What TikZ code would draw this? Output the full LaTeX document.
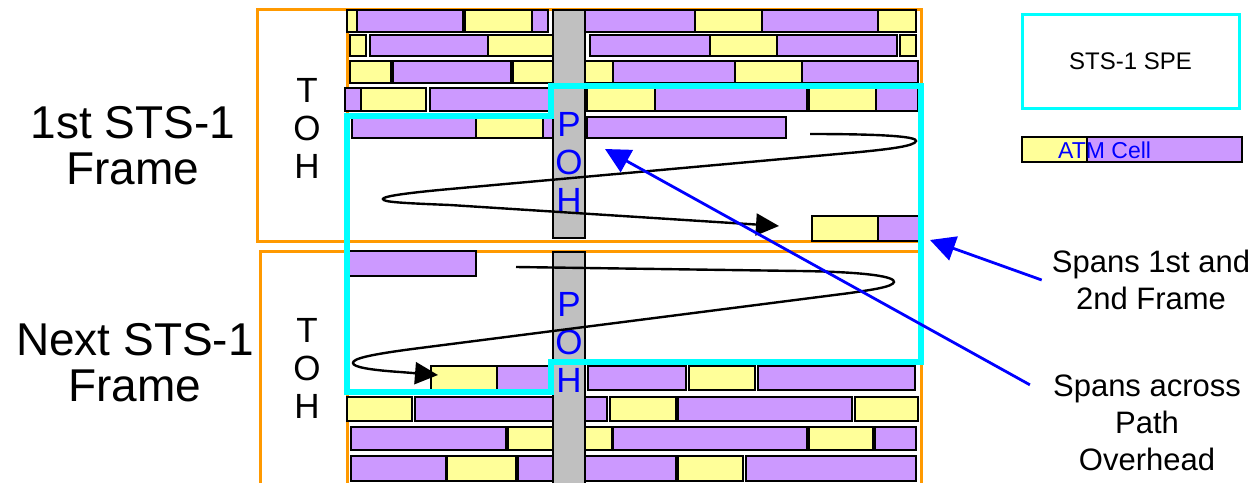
\documentclass[tikz,border=0pt]{standalone}
\usepackage{fontspec}
\setmainfont{Liberation Sans}
\usetikzlibrary{arrows.meta,calc}
\definecolor{framecol}{HTML}{FF9900}
\definecolor{specol}{HTML}{00FFFF}
\definecolor{pohcol}{HTML}{C0C0C0}
\definecolor{notecol}{HTML}{0000FF}
\definecolor{hdr}{HTML}{FFFF99}
\definecolor{pay}{HTML}{CC99FF}

\begin{document}
\begin{tikzpicture}[x=1pt,y=-1pt,
  stsframe/.style={draw=framecol,line width=3pt},
  cellbox/.style={draw=black,line width=2.8pt},
  speline/.style={draw=specol,line width=5.5pt,line join=miter},
  ohbar/.style={draw=black,fill=pohcol,line width=2.5pt},
  ohtext/.style={align=center,inner sep=0pt,font=\fontsize{35}{38}\selectfont},
  bigtext/.style={align=center,inner sep=0pt,font=\fontsize{46}{46}\selectfont},
  spannote/.style={align=center,inner sep=0pt,font=\fontsize{31}{37}\selectfont},
  cellorder/.style={line width=2.4pt,-{Triangle[length=23pt,width=22pt]}},
  callout/.style={draw=notecol,line width=2.8pt,-{Triangle[length=25pt,width=25pt]}}]
  \useasboundingbox (0,0) rectangle (1260,482);
  \begin{scope}
  \clip (0,0) rectangle (1260,482);
  \draw[stsframe] (257,9) rectangle (347,241);
  \draw[stsframe] (347,9) rectangle (921,241);
  \draw[stsframe] (260,251) rectangle (347,495);
  \draw[stsframe] (347,251) rectangle (921,495);
  \def\cellrows{%
    10/32/{347/358/hdr,357/463/pay,465/532/hdr,532/548/pay,585/695/pay,695/762/hdr,762/878/pay,878/916/hdr},%
    35/56/{350/366/hdr,370/488/pay,488/553/hdr,590/710/pay,710/777/hdr,777/897/pay,900/916/hdr},%
    61/83/{350/391/hdr,393/511/pay,513/553/hdr,585/613/hdr,613/735/pay,735/802/hdr,802/918/pay},%
    88/111/{345/361/pay,361/426/hdr,430/549/pay,587/655/hdr,655/807/pay,809/876/hdr,876/918/pay},%
    117/138/{352/476/pay,476/543/hdr,543/553/pay,587/786/pay},%
    216/241/{812/878/hdr,878/921/pay},%
    251/276/{345/476/pay},%
    366/390/{431/497/hdr,497/549/pay,588/686/pay,689/755/hdr,758/915/pay},%
    397/421/{347/412/hdr,415/607/pay,610/676/hdr,678/852/pay,855/918/hdr},%
    427/450/{351/506/pay,508/612/hdr,613/807/pay,809/873/hdr,875/916/pay},%
    456/481/{351/446/pay,447/516/hdr,518/676/pay,678/743/hdr,746/916/pay}%
  }
  \foreach \ya/\yb/\cells in \cellrows {
    \foreach \xa/\xb/\clr in \cells
      \draw[cellbox,fill=\clr] (\xa,\ya) rectangle (\xb,\yb);
  }
  \draw[ohbar] (553,10) rectangle (585,238);
  \draw[ohbar] (553,252) rectangle (585,495);
  \draw[speline] (347,392) -- (347,116) -- (551,116) -- (551,86) -- (921,86)
    -- (921,362) -- (551,362) -- (551,392) -- cycle;
  \end{scope}

  \node[bigtext] (lbl1st) at (133,146) {1st STS-1\\Frame};
  \node[bigtext] (lblnext) at (135,363) {Next STS-1\\Frame};
  \node[ohtext] (toh1) at (307,128) {T\\O\\H};
  \node[ohtext] (toh2) at (307,368) {T\\O\\H};
  \node[ohtext,text=notecol] (poh1) at (569,162) {P\\O\\H};
  \node[ohtext,text=notecol] (poh2) at (569,342) {P\\O\\H};

  \coordinate (ordstart1) at (810,134);
  \coordinate (ordend1) at (779,226);
  \draw[cellorder] (ordstart1) .. controls (890,134) and (917,137) .. (916,141)
    .. controls (915,146) and (890,149) .. (860,152) -- (450,189)
    .. controls (395,194) and (383,197) .. (383,199)
    .. controls (383,202) and (400,203) .. (450,205) -- (ordend1);
  \coordinate (ordstart2) at (516,267);
  \coordinate (ordend2) at (438,375);
  \draw[cellorder] (ordstart2) -- (800,271) .. controls (870,272) and (895,277) .. (894,282)
    .. controls (893,287) and (870,290) .. (850,293) -- (420,348)
    .. controls (365,355) and (353,359) .. (353,363)
    .. controls (353,367) and (370,370) .. (400,372) -- (ordend2);

  \node[draw=specol,line width=3pt,minimum width=217pt,minimum height=94pt,
    font=\fontsize{24}{28}\selectfont] (spekey) at (1130.5,61) {STS-1 SPE};
  \draw[cellbox,fill=pay] (1022,137) rectangle (1242,162);
  \draw[cellbox,fill=hdr] (1022,137) rectangle (1087,162);
  \node[anchor=base west,inner sep=0pt,text=notecol,font=\fontsize{23}{28}\selectfont]
    (cellkey) at (1058,158) {ATM Cell};

  \node[spannote] (spanframe) at (1151,280) {Spans 1st and\\2nd Frame};
  \node[spannote] (spanpoh) at (1147,423) {Spans across\\Path\\Overhead};
  \coordinate (spehit) at (930,240);
  \coordinate (pohhit) at (605,149);
  \draw[callout] ([xshift=-10pt]spanframe.west) -- (spehit);
  \draw[callout] ([xshift=-23pt,yshift=-10pt]spanpoh.north west) -- (pohhit);
\end{tikzpicture}
\end{document}
